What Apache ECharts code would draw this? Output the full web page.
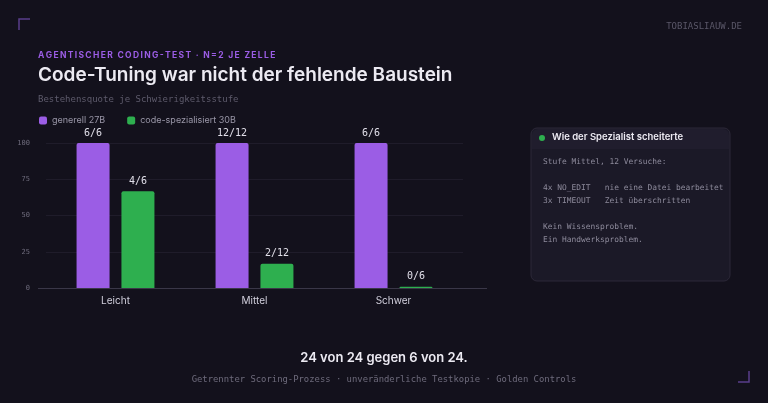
<!DOCTYPE html><html><head><meta charset="utf-8">
<script src="https://cdn.jsdelivr.net/npm/echarts@6/dist/echarts.min.js"></script>
<style>html,body{margin:0;padding:0;background:#13111c;}#c{width:768px;height:403px;}</style></head>
<body><div id="c"></div><script>
const categories=['Leicht','Mittel','Schwer'];
const generell=[100,100,100];
const spezial=[66.7,16.7,0.8];
const labelsGen=['6/6','12/12','6/6'];
const labelsSpez=['4/6','2/12','0/6'];
const yTicks=[0,25,50,75,100];
const mono='"DejaVu Sans Mono", monospace';
const sans='Inter, "Noto Sans", sans-serif';
const kicker='AGENTISCHER CODING-TEST · N=2 JE ZELLE'.split('').join('\u2009');
const ch=echarts.init(document.getElementById('c'));
ch.setOption({
backgroundColor:'#13111c',
animation:false,
grid:{left:46,right:305,top:143,bottom:115},
legend:{left:34,top:111,itemWidth:8,itemHeight:8,itemGap:22,icon:'roundRect',textStyle:{color:'#9a97a8',fontFamily:sans,fontSize:9},data:['generell 27B','code-spezialisiert 30B']},
xAxis:{type:'category',data:categories,axisLine:{lineStyle:{color:'#3a3748'}},axisTick:{show:false},axisLabel:{color:'#d0cedb',fontFamily:sans,fontSize:10,margin:8}},
yAxis:{type:'value',min:0,max:100,interval:25,axisLabel:{color:'#6e6b7c',fontFamily:mono,fontSize:7,margin:16,formatter:v=>yTicks.includes(v)?v:''},splitLine:{lineStyle:{color:'#1f1c2a'}}},
series:[
{name:'generell 27B',type:'bar',data:generell,barWidth:33,barGap:'36%',itemStyle:{color:'#9b5de5',borderRadius:[2,2,0,0]},label:{show:true,position:'top',color:'#e0dee8',fontFamily:mono,fontSize:10,formatter:p=>labelsGen[p.dataIndex]}},
{name:'code-spezialisiert 30B',type:'bar',data:spezial,barWidth:33,itemStyle:{color:'#2eaf4f',borderRadius:[2,2,0,0]},label:{show:true,position:'top',color:'#e0dee8',fontFamily:mono,fontSize:10,formatter:p=>labelsSpez[p.dataIndex]}}
],
graphic:[
{type:'line',shape:{x1:38,y1:288.5,x2:487,y2:288.5},style:{stroke:'#3a3748',lineWidth:1}},
{type:'polyline',shape:{points:[[19,30],[19,19],[30,19]]},style:{stroke:'#5a3e8a',lineWidth:1.5,fill:null}},
{type:'polyline',shape:{points:[[738,382],[749,382],[749,371]]},style:{stroke:'#5a3e8a',lineWidth:1.5,fill:null}},
{type:'text',right:26,top:22,style:{text:'TOBIASLIAUW.DE',fill:'#5a5768',font:'9px '+mono}},
{type:'text',left:38,top:51,style:{text:kicker,fill:'#9b5de5',font:'bold 8.5px '+sans}},
{type:'text',left:38,top:66,style:{text:'Code-Tuning war nicht der fehlende Baustein',fill:'#eceaf2',font:'600 19px '+sans}},
{type:'text',left:38,top:95,style:{text:'Bestehensquote je Schwierigkeitsstufe',fill:'#5e5b6c',font:'9px '+mono}},
{type:'rect',shape:{x:531,y:128,width:199,height:153,r:6},style:{fill:'#1b1927',stroke:'#2c2838',lineWidth:1}},
{type:'rect',shape:{x:532,y:129,width:197,height:20,r:[6,6,0,0]},style:{fill:'#201d2d'}},
{type:'circle',shape:{cx:542,cy:138,r:3},style:{fill:'#2eaf4f'}},
{type:'text',left:552,top:132,style:{text:'Wie der Spezialist scheiterte',fill:'#eceaf2',font:'600 9.5px '+sans}},
{type:'text',left:543,top:155,style:{text:'Stufe Mittel, 12 Versuche:\n\n4x NO_EDIT   nie eine Datei bearbeitet\n3x TIMEOUT   Zeit überschritten\n\nKein Wissensproblem.\nEin Handwerksproblem.',fill:'#8e8b9c',font:'7.9px '+mono,lineHeight:13}},
{type:'text',left:'center',top:352,style:{text:'24 von 24 gegen 6 von 24.',fill:'#eceaf2',font:'600 13px '+sans}},
{type:'text',left:'center',top:375,style:{text:'Getrennter Scoring-Prozess · unveränderliche Testkopie · Golden Controls',fill:'#6e6b7c',font:'8.9px '+mono}}
]});
</script></body></html>
